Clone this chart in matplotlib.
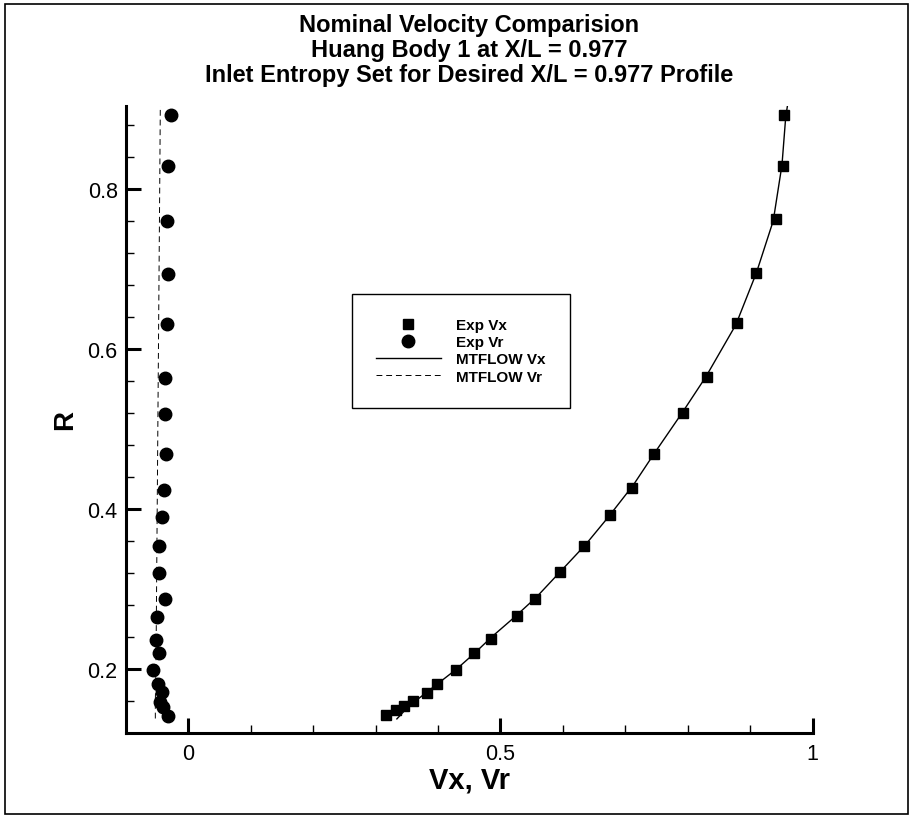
import numpy as np
import matplotlib.pyplot as plt
from matplotlib.patches import Rectangle

plt.rcParams['font.family'] = ['Liberation Sans', 'DejaVu Sans']

# experimental axial velocity (Vx) vs radius
exp_vx = [0.317, 0.332, 0.345, 0.360, 0.382, 0.399, 0.428, 0.458, 0.484, 0.526,
          0.556, 0.595, 0.634, 0.675, 0.711, 0.746, 0.792, 0.831, 0.879, 0.909,
          0.941, 0.952, 0.954]
exp_vx_r = [0.1425, 0.148, 0.153, 0.160, 0.170, 0.181, 0.198, 0.220, 0.2375, 0.266,
            0.2875, 0.321, 0.353, 0.392, 0.426, 0.469, 0.520, 0.565, 0.6325, 0.695,
            0.762, 0.829, 0.892]

# experimental radial velocity (Vr) vs radius
exp_vr = [-0.033, -0.040, -0.046, -0.042, -0.048, -0.056, -0.047, -0.052, -0.050,
          -0.037, -0.047, -0.047, -0.042, -0.039, -0.036, -0.037, -0.037, -0.034,
          -0.033, -0.035, -0.032, -0.028]
exp_vr_r = [0.1415, 0.152, 0.159, 0.171, 0.181, 0.199, 0.220, 0.236, 0.265,
            0.2875, 0.3195, 0.353, 0.390, 0.424, 0.468, 0.518, 0.563, 0.631,
            0.694, 0.760, 0.828, 0.892]

# MTFLOW predictions
mt_vx = [0.334, 0.349, 0.364, 0.397, 0.430, 0.459, 0.486, 0.523, 0.558, 0.594,
         0.636, 0.673, 0.713, 0.747, 0.791, 0.829, 0.877, 0.910, 0.937, 0.951,
         0.957, 0.960]
mt_vx_r = [0.1375, 0.150, 0.160, 0.180, 0.200, 0.220, 0.240, 0.265, 0.290, 0.320,
           0.355, 0.390, 0.430, 0.470, 0.520, 0.565, 0.630, 0.695, 0.760, 0.830,
           0.890, 0.905]
mt_vr = [-0.053, -0.053, -0.052, -0.051, -0.050, -0.049, -0.048, -0.047, -0.046, -0.045]
mt_vr_r = [0.138, 0.16, 0.2, 0.3, 0.4, 0.5, 0.6, 0.7, 0.8, 0.905]

fig = plt.figure(figsize=(9.13, 8.2), dpi=100)
ax = fig.add_axes([0.138, 0.105, 0.752, 0.765])

ax.plot(exp_vx, exp_vx_r, 's', color='k', ms=7, label='Exp Vx')
ax.plot(exp_vr, exp_vr_r, 'o', color='k', ms=9, label='Exp Vr')
ax.plot(mt_vx, mt_vx_r, '-', color='k', lw=1.0, label='MTFLOW Vx')
ax.plot(mt_vr, mt_vr_r, color='k', lw=0.7, linestyle=(0, (6, 4)), label='MTFLOW Vr')

ax.set_xlim(-0.1, 1.0)
ax.set_ylim(0.12, 0.904)

ax.spines['top'].set_visible(False)
ax.spines['right'].set_visible(False)
ax.spines['left'].set_linewidth(2.2)
ax.spines['bottom'].set_linewidth(2.2)

ax.set_xticks([0, 0.5, 1])
ax.set_xticklabels(['0', '0.5', '1'])
ax.set_xticks(np.arange(-0.1, 1.01, 0.1), minor=True)
ax.set_yticks([0.2, 0.4, 0.6, 0.8])
ax.set_yticklabels(['0.2', '0.4', '0.6', '0.8'])
ax.set_yticks(np.arange(0.12, 0.90, 0.04), minor=True)
ax.tick_params(which='major', direction='in', length=11, width=2.2, labelsize=15.5)
ax.tick_params(which='minor', direction='in', length=6, width=1.0)
ax.tick_params(axis='y', which='major', pad=6)
ax.tick_params(axis='x', which='major', pad=7)

ax.set_xlabel('Vx, Vr', fontsize=21, fontweight='bold', labelpad=1)
ax.set_ylabel('R', fontsize=20, fontweight='bold', labelpad=7)

ax.set_title('Nominal Velocity Comparision\nHuang Body 1 at X/L = 0.977\n'
             'Inlet Entropy Set for Desired X/L = 0.977 Profile',
             fontsize=17, fontweight='bold', linespacing=1.1, pad=18)

leg = ax.legend(loc='upper left', bbox_to_anchor=(0.318, 0.712), fancybox=False,
                edgecolor='k', framealpha=1, prop={'weight': 'bold', 'size': 11},
                handlelength=4.2, borderpad=1.6, labelspacing=0.2, handletextpad=1.0)
leg.get_frame().set_linewidth(1.0)

# border around the whole figure
fig.patches.append(Rectangle((0.006, 0.006), 0.988, 0.988, transform=fig.transFigure,
                             fill=False, edgecolor='k', lw=1.2))

fig.savefig('out.png', dpi=100)
